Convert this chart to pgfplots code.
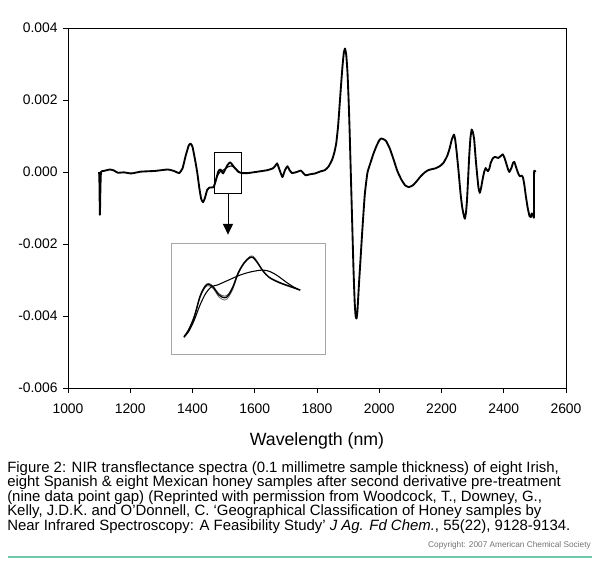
\documentclass[border=0pt]{standalone}
\usepackage{pgfplots}
\pgfplotsset{compat=1.18}
\usepackage{fontspec}
\setmainfont{Liberation Sans}
\usetikzlibrary{arrows.meta}
\definecolor{teal1}{RGB}{110,200,170}
\begin{document}
\begin{tikzpicture}[x=1pt,y=1pt]
\begin{axis}[
  at={(51pt,-291pt)}, anchor=south west,
  width=373.5pt, height=270pt, scale only axis,
  xmin=1000, xmax=2600, ymin=-0.006, ymax=0.004,
  xtick={1000,1200,...,2600},
  ytick={-0.006,-0.004,-0.002,0,0.002,0.004},
  yticklabels={-0.006,-0.004,-0.002,0.000,0.002,0.004},
  scaled y ticks=false,
  /pgf/number format/assume math mode=true,
  /pgf/number format/set thousands separator={},
  tick label style={font=\fontsize{10.4}{12}\selectfont},
  x tick label style={yshift=-4.5pt},
  y tick label style={xshift=-0.5pt},
  tick align=outside, xtick pos=left, ytick pos=left,
  major tick length=3.75pt,
  tick style={black, line width=0.6pt},
  axis line style={line width=0.7pt},
  xlabel={Wavelength (nm)},
  xlabel style={font=\fontsize{13.3}{15}\selectfont, at={(axis description cs:0.5,-0.147)}, anchor=center},
  clip=false,
]
\addplot[black, line width=1.4pt, line join=round, smooth, tension=0.25] coordinates {
(1100,0) (1101,-0.0003) (1102.5,-0.00119) (1104,-0.0005) (1106,0) (1115,0.00003) (1135,0.00007) (1148,0.00004)
(1160,-0.00002) (1180,-0.00001) (1203,-0.00004) (1234,0.00001) (1280,0.00003) (1320,0.00007) (1340,0.00003)
(1357,-0.00003) (1368,0.0001) (1378,0.00045) (1388,0.00074) (1394,0.00079) (1400,0.0007) (1408,0.00035)
(1415,0) (1422,-0.00045) (1428,-0.00075) (1434,-0.00084) (1440,-0.00072) (1447,-0.0005) (1455,-0.00043)
(1468,-0.00042) (1476,-0.0002) (1483,0.00002) (1490,0.00007) (1498,-0.00004) (1505,0.00007) (1513,0.0002)
(1521,0.00027) (1528,0.0002) (1535,0.00012) (1548,0) (1560,-0.00003) (1578,-0.00003) (1610,0.00001)
(1640,0.00005) (1658,0.0001) (1665,0.00016) (1672,0.00024) (1680,0.00005) (1689,-0.00014) (1697,0.00005)
(1705,0.00016) (1712,0.00005) (1720,-0.00003) (1735,0) (1748,0.00004) (1755,-0.00002) (1763,-0.00009)
(1780,-0.00006) (1794,-0.00004) (1812,0.00002) (1825,0.00005) (1837,0.00015) (1849,0.00035) (1856,0.00055)
(1862,0.00081) (1868,0.0013) (1874,0.00202) (1878,0.0025) (1882,0.00295) (1886,0.0033) (1890,0.00343)
(1894,0.00325) (1898,0.00276) (1902,0.0019) (1905,0.00109) (1911,-0.00077) (1917,-0.00263) (1921,-0.0036)
(1924,-0.004) (1927,-0.00407) (1930,-0.00385) (1935,-0.00309) (1940,-0.0024) (1945,-0.0017) (1950,-0.00105)
(1954,-0.00058) (1962,-0.00002) (1972,0.00026) (1981,0.0005) (1991,0.00072) (2000,0.00088) (2006,0.00093)
(2014,0.00091) (2022,0.00086) (2034,0.00065) (2046,0.00035) (2058,0.00003) (2071,-0.00021) (2083,-0.00037)
(2095,-0.00042) (2108,-0.00037) (2120,-0.00026) (2133,-0.00012) (2145,-0.00002) (2157,0.00005) (2169,0.00008)
(2180,0.0001) (2194,0.00016) (2206,0.00025) (2218,0.00044) (2226,0.00065) (2233,0.0009) (2240,0.00104)
(2244,0.0009) (2249,0.00053) (2255,0) (2261,-0.00058) (2266,-0.00095) (2270,-0.00114) (2275,-0.0013)
(2279,-0.0011) (2282,-0.00077) (2286,-0.0001) (2289,0.00044) (2293,0.00095) (2297,0.00118) (2301,0.0011)
(2305,0.0009) (2310,0.00035) (2315,-0.00012) (2319,-0.00045) (2323,-0.00058) (2327,-0.00045) (2332,-0.00021)
(2337,0) (2342,0.00011) (2349,0.00002) (2354,0.0001) (2358,0.00025) (2365,0.00038) (2372,0.00042)
(2382,0.00039) (2390,0.00044) (2397,0.00049) (2403,0.00038) (2409,0.00021) (2414,0.00007) (2418,0)
(2425,0.00012) (2430,0.00026) (2434,0.00028) (2438,0.00018) (2442,0.00007) (2447,-0.00005) (2452,-0.00012)
(2458,-0.0001) (2462,-0.00016) (2466,-0.00035) (2471,-0.00067) (2477,-0.001) (2483,-0.00123) (2487,-0.00125)
(2490,-0.00115) (2494,-0.0012) (2497,-0.00124) (2497.5,0) (2502,0)
};
\addplot[black, line width=0.8pt, smooth] coordinates {
(1468,-0.00042) (1478,-0.00015) (1488,0) (1500,0.00006) (1512,0.00013) (1525,0.00017) (1538,0.0001) (1550,0) (1560,-0.00003)
};
\draw[black, line width=0.7pt] (axis cs:1471,0.00053) rectangle (axis cs:1557,-0.00061);
\draw[black, line width=0.7pt, -{Triangle[length=8pt,width=7.5pt]}] (axis cs:1514,-0.00061) -- (axis cs:1514,-0.00174);
\coordinate (insetSW) at (axis cs:1331,-0.00507);
\end{axis}
\begin{axis}[
  at={(insetSW)}, anchor=south west,
  width=116pt, height=83.6pt, scale only axis,
  xmin=0, xmax=406, ymin=0, ymax=334,
  xtick=\empty, ytick=\empty,
  axis line style={gray!70, line width=0.7pt},
]
\addplot[black!55, line width=0.6pt, smooth, tension=0.55] coordinates {
(34,50) (46,70) (61,110) (76,170) (89,200) (99,206) (111,197) (126,172) (141,163) (151,172) (163,198) (176,240) (191,271) (206,289) (216,290) (228,275) (241,252) (256,232) (271,221) (291,211) (311,203) (339,193)
};
\addplot[black!70, line width=0.6pt, smooth, tension=0.55] coordinates {
(34,55) (46,75) (61,116) (76,176) (89,206) (99,213) (111,204) (126,182) (141,175) (151,182) (163,207) (176,246) (191,275) (206,293) (216,294) (228,276) (241,250) (256,232) (271,222) (291,212) (311,204) (339,193)
};
\addplot[black, line width=1pt, smooth, tension=0.55] coordinates {
(34,53) (46,73) (61,113) (76,173) (89,203) (99,210) (111,201) (126,178) (141,170) (151,178) (163,203) (176,243) (191,273) (206,290) (216,290) (228,273) (241,251) (256,233) (271,223) (291,213) (311,205) (339,193)
};
\addplot[black, line width=0.8pt, smooth, tension=0.55] coordinates {
(34,53) (46,68) (61,103) (76,148) (91,183) (106,203) (121,208) (151,223) (181,238) (211,248) (241,253) (261,248) (281,235) (301,218) (321,203) (339,193)
};
\end{axis}
\begin{scope}[font=\fontsize{11.2}{13}\selectfont]
\node[anchor=base west, inner sep=0pt] at (5.25,-354) {Figure 2: NIR transflectance spectra (0.1 millimetre sample thickness) of eight Irish,};
\node[anchor=base west, inner sep=0pt] at (5.25,-364.9) {eight Spanish \& eight Mexican honey samples after second derivative pre-treatment};
\node[anchor=base west, inner sep=0pt] at (5.25,-375.75) {(nine data point gap) (Reprinted with permission from Woodcock, T., Downey, G.,};
\node[anchor=base west, inner sep=0pt] at (5.25,-386.6) {Kelly, J.D.K. and O’Donnell, C. ‘Geographical Classification of Honey samples by};
\node[anchor=base west, inner sep=0pt] at (5.25,-397.5) {Near Infrared Spectroscopy: A Feasibility Study’ \textit{J Ag. Fd Chem.}, 55(22), 9128-9134.};
\end{scope}
\node[anchor=base east, inner sep=0pt, text=black!55, font=\fontsize{6.2}{7}\selectfont] at (443.25,-410.6) {Copyright: 2007 American Chemical Society};
\draw[teal1, line width=1.5pt] (6,-417.75) -- (444,-417.75);
\pgfresetboundingbox
\path[use as bounding box] (0,0) rectangle (450,-421.5);
\end{tikzpicture}
\end{document}
